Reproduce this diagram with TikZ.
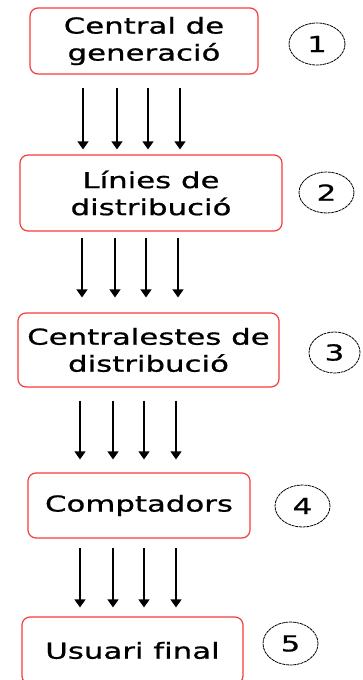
\documentclass[tikz,border=0pt]{standalone}
\usepackage{fontspec}
\setmainfont{DejaVu Sans}[FakeStretch=1.4,FakeBold=0.8,Ligatures=NoCommon]
\usetikzlibrary{arrows.meta,shapes.geometric}
\definecolor{boxred}{RGB}{245,60,60}
\begin{document}
\begin{tikzpicture}[x=1pt,y=-1pt,
  box/.style={draw=boxred, line width=1.2pt, rounded corners=8pt, inner sep=0pt,
    align=center, font=\fontsize{22}{27}\selectfont},
  num/.style={ellipse, draw=black, line width=0.8pt, dash pattern=on 3pt off 0.7pt,
    inner sep=0pt, font=\fontsize{22}{26}\selectfont},
  arr/.style={-{Triangle[width=11pt,length=8pt]}, line width=1.3pt}]
\useasboundingbox (0,0) rectangle (362,680);
\node[box, minimum width=228pt, minimum height=66pt] (b1) at (144,41) {Central de\\generació};
\node[box, minimum width=262pt, minimum height=76pt] (b2) at (151,193) {Línies de\\distribució};
\node[box, minimum width=261pt, minimum height=74pt] (b3) at (148.5,350) {Centralestes de\\distribució};
\node[box, minimum width=222pt, minimum height=65pt] (b4) at (139,505.5) {Comptadors};
\node[box, minimum width=221pt, minimum height=67pt] (b5) at (132.5,650.5) {Usuari final};
\node[num, minimum width=56pt, minimum height=42pt] (e1) at (317,44) {1};
\node[num, minimum width=55pt, minimum height=41pt] (e2) at (326.5,192.5) {2};
\node[num, minimum width=51pt, minimum height=41pt] (e3) at (334.5,352.5) {3};
\node[num, minimum width=55pt, minimum height=42pt] (e4) at (302.5,506) {4};
\node[num, minimum width=55pt, minimum height=43pt] (e5) at (290.5,643.5) {5};
\foreach \x in {83,117,148,180}
  \draw[arr, shorten <=13pt, shorten >=5pt] (\x,0 |- b1.south) -- (\x,0 |- b2.north);
\foreach \x in {82,115,146,178}
  \draw[arr, shorten <=6pt, shorten >=15pt] (\x,0 |- b2.south) -- (\x,0 |- b3.north);
\foreach \x in {80,113,144,176}
  \draw[arr, shorten <=13pt, shorten >=13pt] (\x,0 |- b3.south) -- (\x,0 |- b4.north);
\foreach \x in {80,113,144,176}
  \draw[arr, shorten <=9pt, shorten >=9pt] (\x,0 |- b4.south) -- (\x,0 |- b5.north);
\end{tikzpicture}
\end{document}
